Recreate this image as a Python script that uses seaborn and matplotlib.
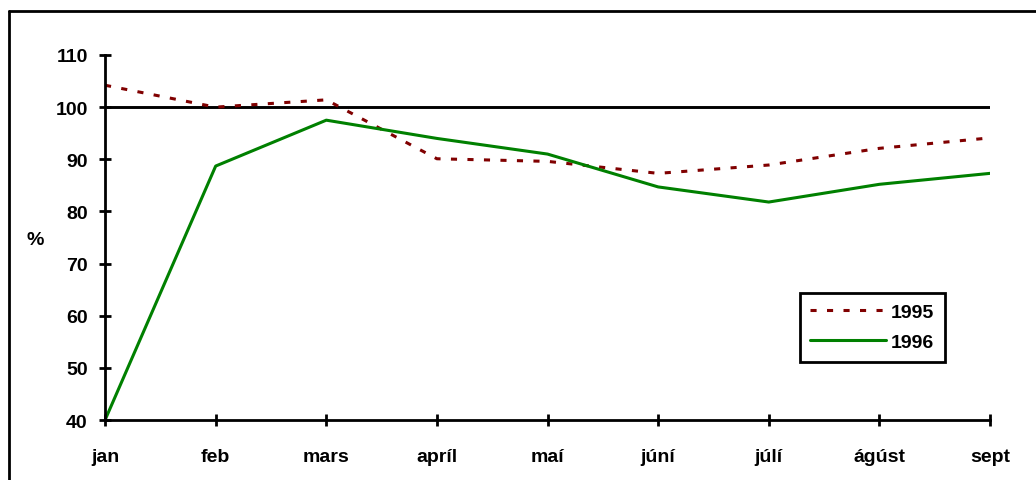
import matplotlib
matplotlib.use('Agg')
import matplotlib.pyplot as plt
import seaborn as sns
import pandas as pd
from matplotlib.lines import Line2D

sns.set_theme(style='white')
plt.rcParams['font.family'] = ['Liberation Sans', 'DejaVu Sans']
plt.rcParams['font.weight'] = 'bold'
for k in ['text.color', 'axes.labelcolor', 'xtick.color', 'ytick.color']:
    plt.rcParams[k] = 'black'

# months on the x axis
months = ['jan', 'feb', 'mars', 'apríl', 'maí', 'júní', 'júlí', 'ágúst', 'sept']
# values in %
v1995 = [104.2, 100.0, 101.4, 90.1, 89.6, 87.3, 88.9, 92.1, 94.1]
v1996 = [40.0, 88.7, 97.5, 94.0, 91.0, 84.7, 81.8, 85.2, 87.3]
yticks = [40, 50, 60, 70, 80, 90, 100, 110]

df = pd.DataFrame({
    'pos': list(range(len(months))) * 2,
    'value': v1995 + v1996,
    'year': ['1995'] * len(months) + ['1996'] * len(months),
})

fs = 14
fig = plt.figure(figsize=(10.36, 4.81), dpi=100)
ax = fig.add_axes([0.1014, 0.1247, 0.8542, 0.7589])

# reference line at 100
ax.plot([0, len(months) - 1], [100, 100], color='black', lw=2.1, zorder=1)

sns.lineplot(data=df, x='pos', y='value', hue='year', style='year',
             palette={'1995': '#800000', '1996': '#008000'},
             dashes={'1995': (2.0, 3.4), '1996': ''}, linewidth=2.2,
             ax=ax, zorder=2)

ax.set_xlim(0, len(months) - 1)
ax.set_ylim(40, 110)
ax.set_xticks(range(len(months)))
ax.set_xticklabels(months, fontsize=fs, fontweight='bold')
ax.set_yticks(yticks)
ax.set_yticklabels([str(t) for t in yticks], fontsize=fs, fontweight='bold')
ax.tick_params(axis='both', direction='inout', length=9, width=2, color='black',
               left=True, bottom=True)
ax.tick_params(axis='x', pad=16)
ax.tick_params(axis='y', pad=8)
for s in ['top', 'right']:
    ax.spines[s].set_visible(False)
for s in ['left', 'bottom']:
    ax.spines[s].set_color('black')
    ax.spines[s].set_linewidth(2)
ax.set_xlabel('')
ax.set_ylabel('%', rotation=0, fontsize=fs, fontweight='bold')
ax.yaxis.set_label_coords(-0.079, 0.47)

leg = ax.legend(loc='upper left', bbox_to_anchor=(0.785, 0.348), frameon=True,
                fancybox=False, edgecolor='black', framealpha=1, fontsize=fs,
                handlelength=3.9, borderpad=0.55, labelspacing=0.62,
                handletextpad=0.25, borderaxespad=0)
leg.get_frame().set_linewidth(2)
for t in leg.get_texts():
    t.set_fontweight('bold')

# outer border (top and left edges of a frame running off the image)
fig.add_artist(Line2D([0.0087, 1.0], [0.975, 0.975], color='black', lw=2,
                      transform=fig.transFigure))
fig.add_artist(Line2D([0.0087, 0.0087], [0.0, 0.975], color='black', lw=2,
                      transform=fig.transFigure))

fig.savefig('out.png', dpi=100)
